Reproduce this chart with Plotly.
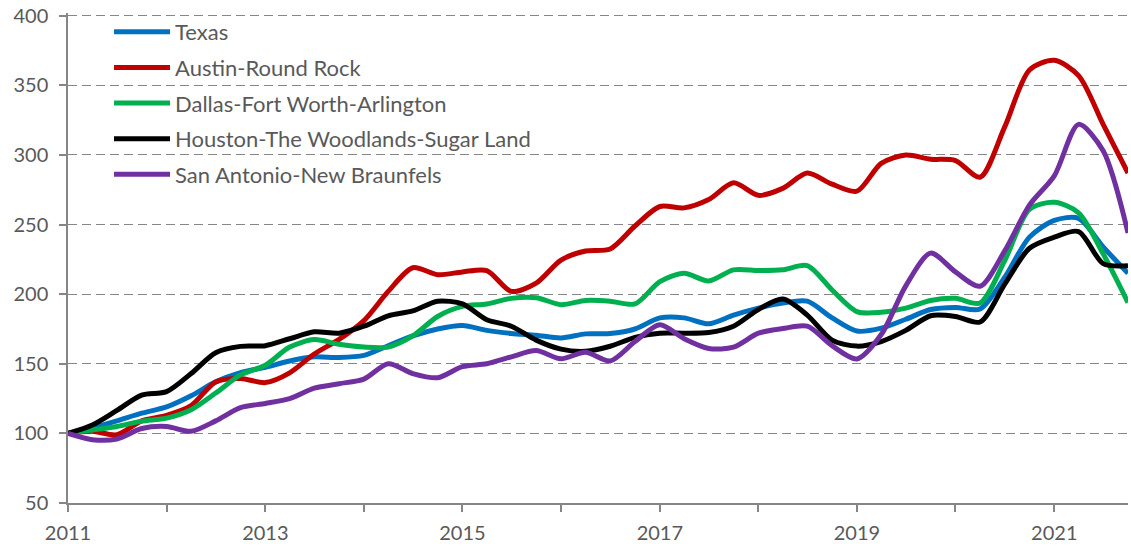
import plotly.graph_objects as go

# Quarterly observation dates (Jan 2011 .. Oct 2021)
dates = [f"{y}-{m:02d}-01" for y in range(2011, 2022) for m in (1, 4, 7, 10)]

texas = [100, 104, 109, 114.5, 119, 127, 137, 143.6, 147.5, 152, 155, 154.5,
         156, 163, 170, 175, 177.5, 174, 171.8, 170.5, 168.6, 171.5, 171.7, 175,
         183, 183, 178.7, 185, 190, 193.6, 195, 183, 173.5, 175.6, 182, 189,
         190.5, 189.4, 212, 241, 253, 254.5, 234, 215]
austin = [100, 101.5, 99, 109, 113, 120, 137, 139.5, 136.5, 143.5, 157, 167.5,
          181, 202, 219, 214, 216, 217, 202, 208, 224.5, 231, 232.5, 249,
          263, 262, 268, 280, 271, 276, 287, 279, 274, 294, 300, 297,
          296, 284, 320, 361, 368, 357, 322, 287]
dallas = [100, 102.5, 105, 108.8, 111, 117, 129, 142, 149, 162, 167.4, 164,
          162, 162, 170, 184, 191.2, 193, 197, 197.5, 192.5, 195.5, 195, 193,
          209, 215, 209.5, 217.5, 217, 217.5, 220.5, 203, 187.5, 187, 190, 195.5,
          197, 193.7, 224, 261, 266, 258.5, 229, 194]
houston = [100, 106, 116.5, 127.5, 130, 143, 158, 162.5, 163, 168, 173, 172,
           177, 184.5, 188, 195, 193, 181.7, 177, 167, 160.5, 159, 162.6, 169,
           172, 172, 172.5, 177, 189, 196.5, 185, 167, 162.7, 166, 174, 184.5,
           184, 180, 207, 233, 241, 245, 222, 220.5]
san_antonio = [100, 95.5, 96, 103.5, 105, 101.5, 109, 118.5, 121.5, 125, 132.5, 135.7,
               139, 150, 143, 140, 148, 150, 155, 159.5, 153.6, 158.3, 152, 166,
               178, 168, 161, 162, 172, 175.3, 177, 163, 153.5, 171, 206, 229.5,
               216, 205.7, 231, 264, 285, 322, 303, 244]

series = [
    ("Texas", texas, "#0070C0"),
    ("Austin-Round Rock", austin, "#C00000"),
    ("Dallas-Fort Worth-Arlington", dallas, "#00B050"),
    ("Houston-The Woodlands-Sugar Land", houston, "#000000"),
    ("San Antonio-New Braunfels", san_antonio, "#7030A0"),
]

fig = go.Figure()
for name, vals, color in series:
    fig.add_trace(go.Scatter(
        x=dates, y=vals, name=name, mode="lines", legendgroup=name,
        line=dict(color=color, width=5, shape="spline", smoothing=0.8),
    ))

font_family = "Lato, 'Open Sans', sans-serif"
fig.update_layout(
    width=1131, height=548,
    margin=dict(l=68, r=3, t=13, b=45, autoexpand=False),
    paper_bgcolor="white", plot_bgcolor="white",
    font=dict(family=font_family, size=20, color="#595959"),
    showlegend=True,
    legend=dict(
        x=0.0387, y=1.004, xanchor="left", yanchor="top",
        bgcolor="rgba(0,0,0,0)", font=dict(size=22, color="#595959"),
        itemwidth=56, tracegroupgap=4,
    ),
    xaxis=dict(
        type="date", range=["2011-01-01", "2021-10-01"],
        tick0="2011-01-01", dtick="M24", tickformat="%Y",
        ticks="outside", ticklen=7, tickwidth=1.5, tickcolor="#868686",
        showline=True, linecolor="#868686", linewidth=1.5,
        showgrid=False, zeroline=False, automargin=False,
        ticklabelstandoff=4,
        minor=dict(dtick="M12", ticks="outside", ticklen=7, tickwidth=1.5,
                   tickcolor="#868686", showgrid=False),
    ),
    yaxis=dict(
        range=[50, 402], dtick=50, tick0=50,
        ticks="outside", ticklen=7, tickwidth=1.5, tickcolor="#868686",
        showline=True, linecolor="#868686", linewidth=1.5,
        showgrid=True, gridcolor="#868686", gridwidth=1.4, griddash="9px,5px",
        zeroline=False, automargin=False, ticklabelstandoff=7,
    ),
)

fig.write_html(
    "out.html",
    config={"displayModeBar": False},
    post_script="document.body.style.margin='0';document.body.style.overflow='hidden';",
)
